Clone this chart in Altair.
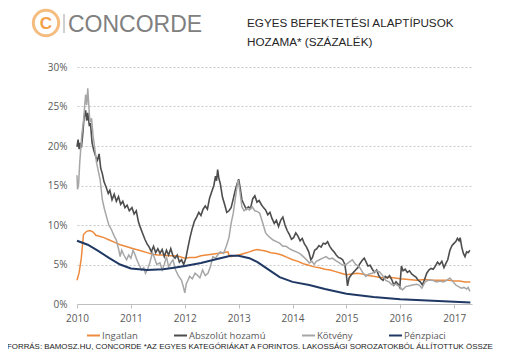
import altair as alt
import pandas as pd

# ---------------- data ----------------
year_ticks = [2010, 2011, 2012, 2013, 2014, 2015, 2016, 2017]
y_ticks = [0, 5, 10, 15, 20, 25, 30]

series_names = ["Ingatlan", "Abszolút hozamú", "Kötvény", "Pénzpiaci"]
series_colors = ["#EE8A3C", "#4D4D4D", "#A6A6A6", "#1F3864"]

ing_t = [2010.00, 2010.04, 2010.08, 2010.12, 2010.18, 2010.24, 2010.30, 2010.35, 2010.40, 2010.50,
         2010.60, 2010.70, 2010.80, 2010.90, 2011.00, 2011.10, 2011.20, 2011.30, 2011.40, 2011.50,
         2011.60, 2011.70, 2011.80, 2011.90, 2012.00, 2012.10, 2012.20, 2012.30, 2012.40, 2012.50,
         2012.60, 2012.70, 2012.80, 2012.82, 2012.85, 2012.92, 2013.00, 2013.10, 2013.20, 2013.28,
         2013.35, 2013.42, 2013.50, 2013.60, 2013.70, 2013.80, 2013.90, 2014.00, 2014.10, 2014.20,
         2014.30, 2014.40, 2014.50, 2014.60, 2014.70, 2014.80, 2014.90, 2015.00, 2015.10, 2015.20,
         2015.30, 2015.40, 2015.50, 2015.60, 2015.70, 2015.80, 2015.90, 2016.00, 2016.15, 2016.30,
         2016.45, 2016.60, 2016.75, 2016.90, 2017.00, 2017.10, 2017.20, 2017.30]
ing_v = [3.0, 4.0, 5.8, 8.8, 9.2, 9.3, 9.1, 8.7, 8.6, 8.4,
         8.1, 7.8, 7.5, 7.3, 7.1, 6.9, 6.7, 6.5, 6.3, 6.2,
         6.2, 6.1, 6.1, 6.0, 5.8, 5.9, 5.9, 6.1, 6.2, 6.3,
         6.4, 6.5, 6.6, 6.2, 6.0, 6.1, 6.2, 6.4, 6.6, 6.8,
         6.9, 6.8, 6.7, 6.5, 6.4, 6.2, 5.9, 5.6, 5.4, 5.1,
         4.9, 4.7, 4.6, 4.4, 4.3, 4.1, 3.9, 3.7, 3.8, 3.9,
         3.8, 3.6, 3.5, 3.4, 3.3, 3.4, 3.3, 3.2, 3.1, 3.0,
         3.1, 3.0, 3.0, 3.0, 2.9, 2.9, 2.8, 2.8]

abs_t = [2010.00, 2010.02, 2010.04, 2010.06, 2010.08, 2010.10, 2010.13, 2010.16, 2010.18, 2010.20,
         2010.23, 2010.25, 2010.28, 2010.31, 2010.35, 2010.38, 2010.41, 2010.44, 2010.47, 2010.50,
         2010.54, 2010.58, 2010.61, 2010.65, 2010.69, 2010.73, 2010.77, 2010.81, 2010.85, 2010.89,
         2010.93, 2010.97, 2011.02, 2011.06, 2011.10, 2011.14, 2011.18, 2011.22, 2011.26, 2011.30,
         2011.34, 2011.38, 2011.42, 2011.46, 2011.50, 2011.54, 2011.58, 2011.62, 2011.66, 2011.70,
         2011.74, 2011.78, 2011.82, 2011.86, 2011.90, 2011.94, 2011.98, 2012.02, 2012.06, 2012.10,
         2012.14, 2012.18, 2012.22, 2012.26, 2012.30, 2012.34, 2012.38, 2012.42, 2012.46, 2012.50,
         2012.54, 2012.57, 2012.59, 2012.61, 2012.63, 2012.66, 2012.70, 2012.74, 2012.78, 2012.82,
         2012.86, 2012.90, 2012.94, 2012.97, 2013.00, 2013.03, 2013.06, 2013.10, 2013.14, 2013.18,
         2013.22, 2013.26, 2013.30, 2013.34, 2013.38, 2013.42, 2013.46, 2013.50, 2013.54, 2013.58,
         2013.62, 2013.66, 2013.70, 2013.74, 2013.78, 2013.82, 2013.86, 2013.90, 2013.94, 2013.98,
         2014.02, 2014.06, 2014.10, 2014.14, 2014.18, 2014.22, 2014.26, 2014.30, 2014.34, 2014.37,
         2014.41, 2014.45, 2014.49, 2014.53, 2014.57, 2014.61, 2014.65, 2014.69, 2014.73, 2014.77,
         2014.81, 2014.85, 2014.89, 2014.93, 2014.97, 2015.00, 2015.02, 2015.05, 2015.09, 2015.13,
         2015.17, 2015.21, 2015.25, 2015.29, 2015.33, 2015.36, 2015.40, 2015.44, 2015.48, 2015.52,
         2015.56, 2015.60, 2015.64, 2015.68, 2015.72, 2015.76, 2015.80, 2015.84, 2015.88, 2015.92,
         2015.96, 2015.99, 2016.02, 2016.05, 2016.09, 2016.13, 2016.17, 2016.21, 2016.25, 2016.29,
         2016.33, 2016.37, 2016.41, 2016.45, 2016.49, 2016.53, 2016.57, 2016.61, 2016.65, 2016.69,
         2016.73, 2016.77, 2016.81, 2016.85, 2016.88, 2016.92, 2016.96, 2017.00, 2017.03, 2017.06,
         2017.09, 2017.11, 2017.14, 2017.17, 2017.20, 2017.23, 2017.26, 2017.29]
abs_v = [19.9, 20.8, 19.6, 20.4, 19.8, 21.0, 23.5, 24.5, 23.2, 24.2,
         22.5, 22.9, 20.4, 19.5, 18.6, 18.2, 19.0, 17.2, 16.5, 15.5,
         14.8, 14.0, 14.4, 13.2, 13.9, 13.0, 13.6, 12.6, 13.0, 12.2,
         12.5, 11.8, 12.2, 11.4, 11.8, 10.4, 9.6, 8.9, 8.2, 7.6,
         7.2, 6.6, 7.3, 6.5, 7.0, 6.4, 6.9, 6.0, 6.8, 6.2,
         7.0, 6.1, 5.8, 6.2, 5.3, 5.6, 5.0, 5.8, 7.2, 8.5,
         9.6, 10.5, 11.0, 11.6, 11.2, 12.0, 12.4, 12.0, 13.4, 14.2,
         15.0, 16.2, 15.6, 17.0, 16.0, 15.2, 13.5, 12.6, 11.6, 11.8,
         12.2, 13.3, 14.5, 15.2, 15.8, 14.6, 13.2, 12.6, 12.0, 12.3,
         12.1, 13.3, 13.7, 12.9, 13.1, 12.6, 12.2, 11.9, 11.3, 11.6,
         10.8, 10.2, 10.6, 9.8, 10.6, 11.0, 10.0, 9.3, 8.8, 8.2,
         8.4, 9.0, 8.6, 8.0, 8.3, 7.6, 7.2, 6.6, 5.6, 5.9,
         6.8, 7.0, 7.4, 7.2, 7.7, 7.6, 7.9, 7.3, 6.9, 6.6,
         6.2, 5.9, 5.8, 5.6, 5.0, 3.6, 2.3, 3.3, 3.7, 4.0,
         4.3, 4.6, 5.1, 5.5, 5.8, 5.4, 4.8, 4.9, 4.4, 4.0,
         4.3, 3.6, 3.2, 3.0, 3.5, 3.3, 3.6, 3.1, 2.4, 2.8,
         2.5, 2.1, 4.8, 4.2, 4.4, 4.0, 4.2, 3.8, 3.6, 3.4,
         3.0, 2.8, 2.4, 3.1, 3.9, 4.3, 4.5, 4.4, 4.8, 5.3,
         5.0, 5.4, 4.6, 5.2, 5.6, 6.8, 7.4, 7.7, 7.9, 8.3,
         8.0, 8.4, 7.2, 6.4, 6.0, 6.6, 6.5, 6.8]

kot_t = [2010.00, 2010.01, 2010.03, 2010.05, 2010.07, 2010.09, 2010.12, 2010.14, 2010.16, 2010.18,
         2010.20, 2010.22, 2010.24, 2010.27, 2010.30, 2010.33, 2010.36, 2010.40, 2010.43, 2010.47,
         2010.51, 2010.55, 2010.59, 2010.64, 2010.69, 2010.73, 2010.77, 2010.80, 2010.83, 2010.87,
         2010.92, 2010.96, 2011.00, 2011.04, 2011.08, 2011.11, 2011.15, 2011.20, 2011.24, 2011.27,
         2011.31, 2011.35, 2011.40, 2011.44, 2011.48, 2011.54, 2011.58, 2011.62, 2011.66, 2011.70,
         2011.74, 2011.78, 2011.83, 2011.88, 2011.94, 2011.98, 2012.00, 2012.03, 2012.06, 2012.09,
         2012.14, 2012.19, 2012.24, 2012.28, 2012.33, 2012.38, 2012.43, 2012.48, 2012.52, 2012.57,
         2012.62, 2012.66, 2012.72, 2012.77, 2012.82, 2012.86, 2012.90, 2012.93, 2012.96, 2012.99,
         2013.02, 2013.06, 2013.10, 2013.15, 2013.20, 2013.25, 2013.30, 2013.35, 2013.39, 2013.45,
         2013.50, 2013.55, 2013.60, 2013.64, 2013.70, 2013.76, 2013.82, 2013.88, 2013.94, 2014.00,
         2014.07, 2014.13, 2014.20, 2014.26, 2014.31, 2014.36, 2014.40, 2014.44, 2014.50, 2014.56,
         2014.62, 2014.68, 2014.74, 2014.80, 2014.87, 2014.93, 2014.99, 2015.05, 2015.11, 2015.17,
         2015.24, 2015.30, 2015.36, 2015.42, 2015.48, 2015.55, 2015.61, 2015.67, 2015.73, 2015.79,
         2015.85, 2015.92, 2015.99, 2016.04, 2016.10, 2016.17, 2016.23, 2016.30, 2016.35, 2016.40,
         2016.46, 2016.52, 2016.60, 2016.67, 2016.74, 2016.80, 2016.86, 2016.92, 2016.98, 2017.03,
         2017.08, 2017.13, 2017.18, 2017.23, 2017.26, 2017.29]
kot_v = [16.3, 14.5, 15.2, 17.8, 19.7, 21.5, 23.1, 24.8, 26.5, 25.2,
         27.3, 25.0, 23.0, 23.5, 21.2, 19.7, 18.0, 16.7, 15.7, 13.2,
         12.0, 11.0, 10.0, 9.4, 8.6, 8.1, 7.0, 6.0, 6.8, 6.2,
         5.6, 6.2, 5.8, 6.8, 6.2, 5.6, 5.0, 4.3, 4.6, 3.9,
         4.4, 5.2, 6.5, 5.8, 5.0, 5.2, 4.3, 5.0, 6.0, 4.7,
         5.2, 5.6, 4.3, 3.6, 3.0, 2.0, 1.4, 2.6, 3.0, 3.5,
         3.2, 3.9, 3.6, 3.3, 4.3, 3.6, 3.9, 4.8, 6.0, 5.8,
         6.3, 6.6, 6.4, 7.3, 8.4, 10.2, 11.5, 13.0, 14.4, 15.7,
         14.4, 12.3, 11.8, 12.1, 11.9, 12.3, 11.8, 11.7, 11.5, 10.2,
         9.0, 8.6, 8.3, 8.1, 7.9, 7.7, 7.3, 7.3, 7.0, 6.8,
         6.6, 6.4, 6.0, 5.6, 5.2, 5.4, 5.0, 5.4, 5.6, 5.8,
         6.0, 5.7, 5.8, 5.5, 5.2, 4.9, 5.0, 5.3, 5.6, 5.0,
         4.7, 4.0, 3.5, 3.8, 3.9, 4.2, 4.1, 3.6, 3.0, 2.8,
         2.4, 2.5, 2.2, 1.8, 2.2, 2.3, 2.4, 2.5, 2.4, 2.0,
         2.8, 3.0, 3.0, 2.8, 2.9, 2.8, 3.0, 3.3, 2.8, 2.4,
         2.2, 2.0, 2.1, 1.9, 2.1, 1.6]

penz_t = [2010.00, 2010.20, 2010.40, 2010.60, 2010.80, 2011.00, 2011.30, 2011.60, 2011.80, 2012.00,
          2012.30, 2012.60, 2012.85, 2013.00, 2013.20, 2013.35, 2013.50, 2013.76, 2014.00, 2014.31,
          2014.60, 2015.00, 2015.50, 2016.00, 2016.50, 2017.00, 2017.30]
penz_v = [8.0, 7.5, 6.7, 5.8, 5.0, 4.5, 4.3, 4.4, 4.6, 4.8,
          5.2, 5.7, 6.1, 6.1, 5.8, 5.3, 4.6, 3.4, 2.8, 2.4,
          1.9, 1.3, 0.9, 0.6, 0.45, 0.3, 0.2]

logo_text = ["CONCORDE"]
title_lines = ["EGYES BEFEKTETÉSI ALAPTÍPUSOK", "HOZAMA* (SZÁZALÉK)"]
footer_text = ["FORRÁS: BAMOSZ.HU, CONCORDE *AZ EGYES KATEGÓRIÁKAT A FORINTOS. LAKOSSÁGI SOROZATOKBÓL ÁLLÍTOTTUK ÖSSZE"]

# ---------------- build table ----------------
frames = []
for name, tt, vv in zip(series_names, [ing_t, abs_t, kot_t, penz_t], [ing_v, abs_v, kot_v, penz_v]):
    frames.append(pd.DataFrame({"t": tt, "v": vv, "series": name}))
df = pd.concat(frames, ignore_index=True)

FONT = "Open Sans"
GRAY_TXT = "#595959"

xscale = alt.Scale(domain=[2010, 2017.33], nice=False, zero=False)
yscale = alt.Scale(domain=[0, 30], nice=False)

xaxis = alt.Axis(values=year_ticks, format="d", grid=False, domainColor="#BFBFBF",
                 tickColor="#BFBFBF", tickSize=4, labelPadding=5, labelFont=FONT,
                 labelFontSize=10, labelColor=GRAY_TXT, title=None, labelFlush=False,
                 labelOverlap=False)
yaxis = alt.Axis(values=y_ticks, labelExpr="datum.value + '%'", grid=True, gridDash=[2, 2],
                 gridColor="#C8C8C8", domain=False, ticks=False, labelPadding=10,
                 labelFont=FONT, labelFontSize=10, labelColor=GRAY_TXT, title=None)

legend = alt.Legend(title=None, orient="none", legendX=9, legendY=261, direction="horizontal",
                    symbolType="stroke", symbolSize=169, symbolStrokeWidth=2,
                    labelFont=FONT, labelFontSize=9.5, labelColor=GRAY_TXT, labelOffset=1,
                    columnPadding=32, padding=0)

color = alt.Color("series:N", scale=alt.Scale(domain=series_names, range=series_colors),
                  legend=legend)

widths = {"Ingatlan": 1.5, "Abszolút hozamú": 1.6, "Kötvény": 1.5, "Pénzpiaci": 2.0}

layers = []
for name in series_names:
    layers.append(
        alt.Chart(df)
        .transform_filter(alt.datum.series == name)
        .mark_line(strokeWidth=widths[name])
        .encode(x=alt.X("t:Q", scale=xscale, axis=xaxis),
                y=alt.Y("v:Q", scale=yscale, axis=yaxis),
                color=color)
    )

one = pd.DataFrame({"a": [0]})
LOGO_ORANGE = "#F2A04A"

ring = alt.Chart(one).mark_point(shape="circle", filled=False, size=640, strokeWidth=3,
                                 color=LOGO_ORANGE).encode(x=alt.value(-31), y=alt.value(-44))
c_letter = alt.Chart(one).mark_text(text="C", font="Liberation Sans", fontWeight="bold",
                                    fontSize=17, color=LOGO_ORANGE, align="center",
                                    baseline="middle").encode(x=alt.value(-31), y=alt.value(-43))
bar = alt.Chart(one).mark_rule(color="#C0C0C0", strokeWidth=1.5).encode(
    x=alt.value(-13), y=alt.value(-53), y2=alt.value(-34))
brand = alt.Chart(pd.DataFrame({"txt": logo_text})).mark_text(
    font="Liberation Sans", fontSize=23, color="#808080", align="left",
    baseline="alphabetic").encode(text="txt:N", x=alt.value(-9), y=alt.value(-35))

title1 = alt.Chart(pd.DataFrame({"txt": [title_lines[0]]})).mark_text(
    font="Liberation Sans", fontSize=11.7, color="#262626", align="left",
    baseline="alphabetic").encode(text="txt:N", x=alt.value(170), y=alt.value(-40))
title2 = alt.Chart(pd.DataFrame({"txt": [title_lines[1]]})).mark_text(
    font="Liberation Sans", fontSize=11.7, color="#262626", align="left",
    baseline="alphabetic").encode(text="txt:N", x=alt.value(170), y=alt.value(-21))

footer = alt.Chart(pd.DataFrame({"txt": footer_text})).mark_text(
    font="Liberation Sans", fontSize=7.9, color="#1A1A1A", align="left",
    baseline="alphabetic").encode(text="txt:N", x=alt.value(-70), y=alt.value(282))

chart = alt.layer(*layers, ring, c_letter, bar, brand, title1, title2, footer).properties(
    width=395, height=237,
    autosize=alt.AutoSizeParams(type="none"),
    padding={"left": 69, "top": 59, "right": 37, "bottom": 47},
    background="white",
).configure_view(stroke=None)

chart.save("out.html", embed_options={"renderer": "svg", "actions": False})
